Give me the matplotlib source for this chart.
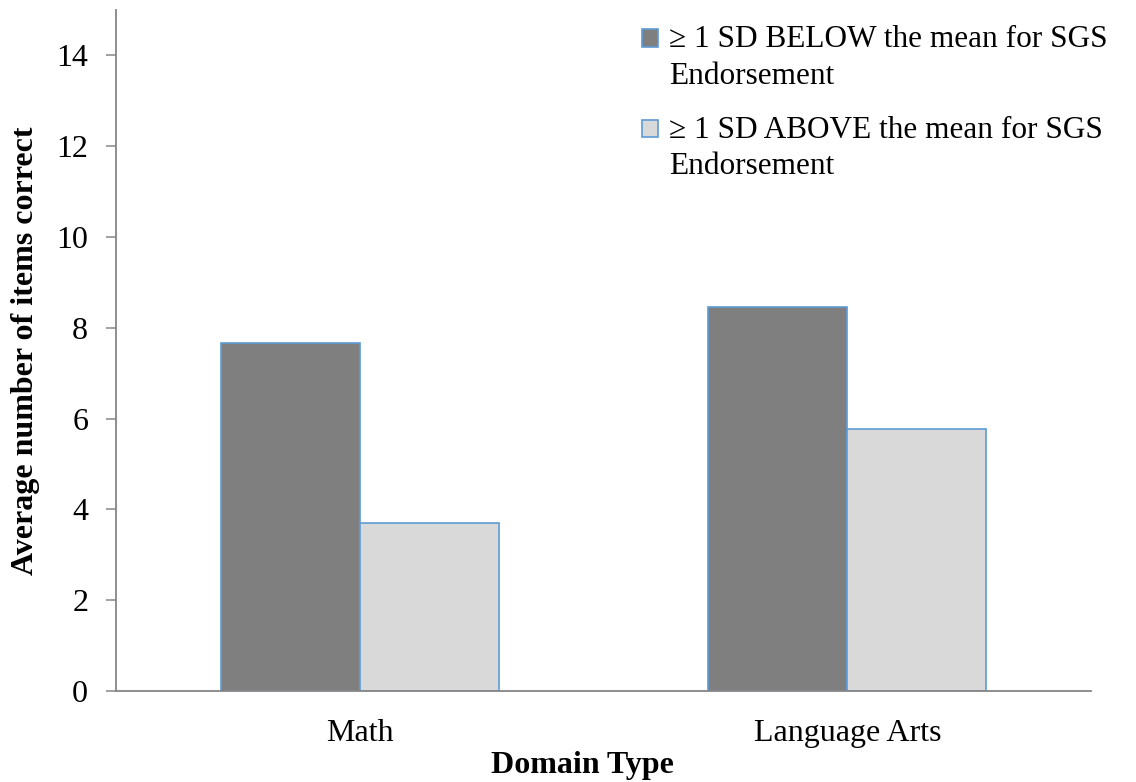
import matplotlib
matplotlib.use('Agg')
import matplotlib.pyplot as plt
from matplotlib.patches import Rectangle
from matplotlib.container import BarContainer
from matplotlib.legend_handler import HandlerPatch, update_from_first_child
import numpy as np

plt.rcParams['font.family'] = ['Liberation Serif', 'DejaVu Serif']

# data
domains = ['Math', 'Language Arts']
below_mean = [7.67, 8.45]   # >= 1 SD below the mean for SGS endorsement
above_mean = [3.71, 5.78]   # >= 1 SD above the mean for SGS endorsement
series_labels = ['\u2265 1 SD BELOW the mean for SGS\nEndorsement',
                 '\u2265 1 SD ABOVE the mean for SGS\nEndorsement']
yticks = [0, 2, 4, 6, 8, 10, 12, 14]

fs = 23
edge = '#5b9bd5'
axis_col = '#868686'


# legend square sits next to the first text line, like Excel does
def top_square(legend, orig_handle, xdescent, ydescent, width, height, fontsize):
    return Rectangle((-xdescent, -ydescent + 0.64 * fontsize), width, height)


fig = plt.figure(figsize=(11.36, 7.82), dpi=100)
ax = fig.add_axes([0.1021, 0.1164, 0.8583, 0.8708])

x = np.arange(len(domains))
w = 0.285
ax.bar(x - w / 2, below_mean, w, color='#7f7f7f', edgecolor=edge,
       linewidth=1.2, label=series_labels[0])
ax.bar(x + w / 2, above_mean, w, color='#d9d9d9', edgecolor=edge,
       linewidth=1.2, label=series_labels[1])

ax.set_xlim(-0.5, 1.5)
ax.set_ylim(0, 15)
ax.set_yticks(yticks)
ax.set_xticks(x)
ax.set_xticklabels(domains)

for s in ['top', 'right']:
    ax.spines[s].set_visible(False)
for s in ['left', 'bottom']:
    ax.spines[s].set_color(axis_col)
    ax.spines[s].set_linewidth(1.3)

ax.tick_params(axis='y', direction='out', length=7, width=1.1,
               color=axis_col, pad=13, labelsize=fs)
ax.tick_params(axis='x', length=0, pad=20, labelsize=fs)

ax.set_xlabel('Domain Type', fontsize=fs, fontweight='bold', va='top')
ax.xaxis.set_label_coords(0.478, -0.088)
ax.set_ylabel('Average number of items correct', fontsize=fs,
              fontweight='bold', labelpad=12)

square = HandlerPatch(patch_func=top_square, update_func=update_from_first_child)
leg = ax.legend(loc='upper left', bbox_to_anchor=(0.549, 0.992),
                bbox_transform=fig.transFigure, frameon=False, fontsize=22.5,
                handlelength=0.5, handleheight=0.5, handletextpad=0.35,
                labelspacing=0.8, borderaxespad=0.2,
                handler_map={BarContainer: square})
for t in leg.get_texts():
    t.set_linespacing(1.35)

plt.savefig('out.png', dpi=100)
